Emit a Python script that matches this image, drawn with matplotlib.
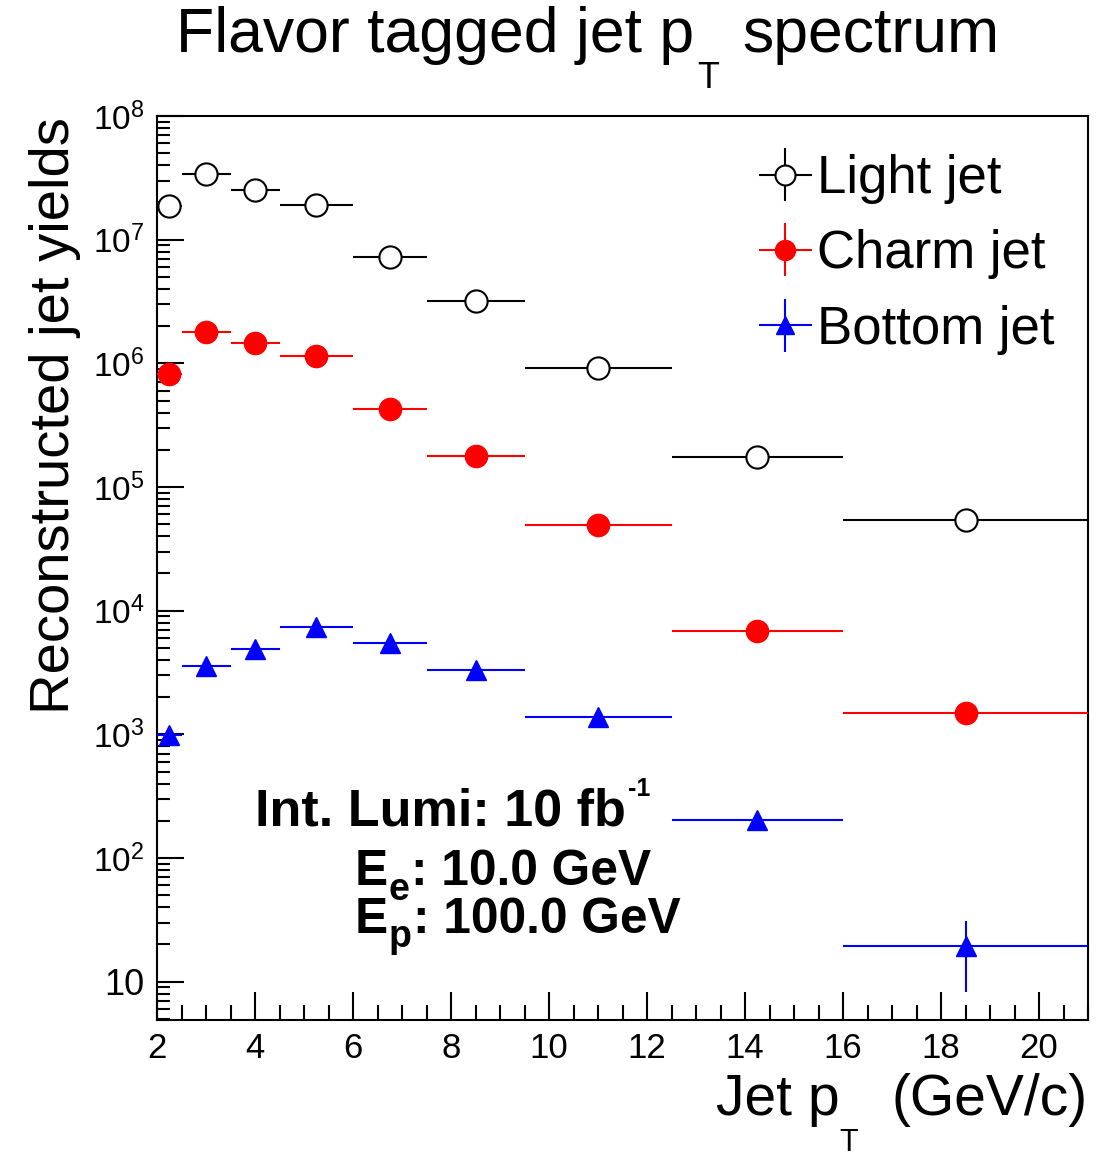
import matplotlib
matplotlib.use("Agg")
import matplotlib.pyplot as plt
import numpy as np
from matplotlib.ticker import FuncFormatter, FixedLocator, MultipleLocator, NullFormatter
from matplotlib.transforms import IdentityTransform

plt.rcParams['font.family'] = ['Liberation Sans', 'DejaVu Sans']
plt.rcParams['mathtext.fontset'] = 'custom'
plt.rcParams['mathtext.rm'] = 'Liberation Sans'
plt.rcParams['mathtext.it'] = 'Liberation Sans'
plt.rcParams['mathtext.bf'] = 'Liberation Sans:bold'

# ---- data ----
bin_lo = [2.0, 2.5, 3.5, 4.5, 6.0, 7.5, 9.5, 12.5, 16.0]
bin_hi = [2.5, 3.5, 4.5, 6.0, 7.5, 9.5, 12.5, 16.0, 21.0]
light = [1.86e7, 3.37e7, 2.51e7, 1.92e7, 7.28e6, 3.2e6, 9.2e5, 1.74e5, 5.46e4]
charm = [8.2e5, 1.79e6, 1.46e6, 1.15e6, 4.27e5, 1.77e5, 4.9e4, 6.9e3, 1.49e3]
bottom = [9.8e2, 3.6e3, 4.9e3, 7.4e3, 5.5e3, 3.3e3, 1.37e3, 2.04e2, 19.6]
light_err = [0, 0, 0, 0, 0, 0, 0, 0, 0]
charm_err = [0, 0, 0, 0, 0, 0, 0, 0, 0]
bottom_err = [0, 0, 0, 0, 0, 0, 0, 0, 11.3]
labels = ["Light jet", "Charm jet", "Bottom jet"]
y_decades = [1, 2, 3, 4, 5, 6, 7, 8]

W, H = 1110, 1157
lo = np.array(bin_lo); hi = np.array(bin_hi)
xc = (lo + hi) / 2
xe = (hi - lo) / 2

fig = plt.figure(figsize=(W/100, H/100), dpi=100)
ax = fig.add_axes([157/W, 1 - 1020/H, (1088-157)/W, (1020-116)/H])

h1 = ax.errorbar(xc, light, xerr=xe, yerr=light_err, fmt='o', color='black',
                 mfc='white', mec='black', ms=16, mew=1.5, elinewidth=1.5, capsize=0,
                 label=labels[0], zorder=3)
h2 = ax.errorbar(xc, charm, xerr=xe, yerr=charm_err, fmt='o', color='red',
                 mfc='red', mec='red', ms=16, elinewidth=1.5, capsize=0,
                 label=labels[1], zorder=3)
h3 = ax.errorbar(xc, bottom, xerr=xe, yerr=bottom_err, fmt='^', color='blue',
                 mfc='blue', mec='blue', ms=14.5, elinewidth=1.5, capsize=0,
                 label=labels[2], zorder=3)

ax.set_yscale('log')
ax.set_xlim(2, 21)
ax.set_ylim(4.9, 1.0e8)

ax.xaxis.set_major_locator(MultipleLocator(2))
ax.xaxis.set_minor_locator(MultipleLocator(0.5))
major_y = [10.0 ** e for e in y_decades]
minor_y = [m * 10.0 ** e for e in [0] + y_decades[:-1] for m in range(2, 10)
           if 4.9 <= m * 10.0 ** e <= 1e8]
ax.yaxis.set_major_locator(FixedLocator(major_y))
ax.yaxis.set_minor_locator(FixedLocator(minor_y))

def yfmt(v, pos):
    e = int(round(np.log10(v)))
    if e == 1:
        return "10"
    return r"$\mathregular{10^{%d}}$" % e
ax.yaxis.set_major_formatter(FuncFormatter(yfmt))
ax.yaxis.set_minor_formatter(NullFormatter())

ax.tick_params(axis='both', which='both', direction='in', top=False, right=False, width=1.5)
ax.tick_params(axis='x', which='major', length=20, labelsize=25, pad=9)
ax.tick_params(axis='x', which='minor', length=10.5)
ax.tick_params(axis='y', which='major', length=19.5, labelsize=24, pad=9)
ax.tick_params(axis='y', which='minor', length=9.5)
for s in ax.spines.values():
    s.set_linewidth(1.5)
for lab in ax.get_yticklabels():
    if lab.get_text() == "10":
        lab.set_fontsize(26)

leg = ax.legend(handles=[h1, h2, h3], labels=labels, loc='upper left',
                bbox_to_anchor=(764/W, 1 - 154/H), bbox_transform=fig.transFigure,
                frameon=False, fontsize=38, handlelength=0.8, handletextpad=0.2,
                labelspacing=0.48, borderpad=0, borderaxespad=0, markerscale=0.9)

renderer = fig.canvas.get_renderer()

def rich(x, y, pieces, ha='left'):
    """pieces: (text, size, drop_px, weight, gap_px); x, y in pixels from top-left."""
    objs = []
    cx = 0.0
    for s, size, drop, weight, gap in pieces:
        cx += gap
        t = fig.text(0, 0, s, fontsize=size, fontweight=weight,
                     transform=IdentityTransform(), ha='left', va='baseline')
        w = t.get_window_extent(renderer).width
        objs.append((t, cx, drop))
        cx += w
    if ha == 'left':
        x0 = x
    elif ha == 'right':
        x0 = x - cx
    else:
        x0 = x - cx / 2
    for t, ox, drop in objs:
        t.set_position((x0 + ox, H - (y + drop)))

# title
rich(588, 52, [("Flavor tagged jet p", 45, 0, 'normal', 0),
               ("T", 26, 36, 'normal', 3),
               ("spectrum", 45, 0, 'normal', 23)], ha='center')
# x axis title
rich(1088, 1115, [("Jet p", 41, 0, 'normal', 0),
                  ("T", 22, 36, 'normal', 0),
                  ("(GeV/c)", 41, 0, 'normal', 34)], ha='right')
# y axis title
fig.text(55/W, 1 - 117/H, "Reconstructed jet yields", rotation=90,
         ha='center', va='top', fontsize=40.5)

# annotations
rich(255, 825, [("Int. Lumi: 10 fb", 37.5, 0, 'bold', 0),
                ("-1", 18, -29, 'bold', 2)])
rich(355, 885, [("E", 35.7, 0, 'bold', 0),
                ("e", 27, 15, 'bold', 0),
                (": 10.0 GeV", 35.7, 0, 'bold', 2)])
rich(355, 933, [("E", 35.7, 0, 'bold', 0),
                ("p", 27, 14, 'bold', 0),
                (": 100.0 GeV", 35.7, 0, 'bold', 2)])

fig.savefig("out.png", dpi=100)
